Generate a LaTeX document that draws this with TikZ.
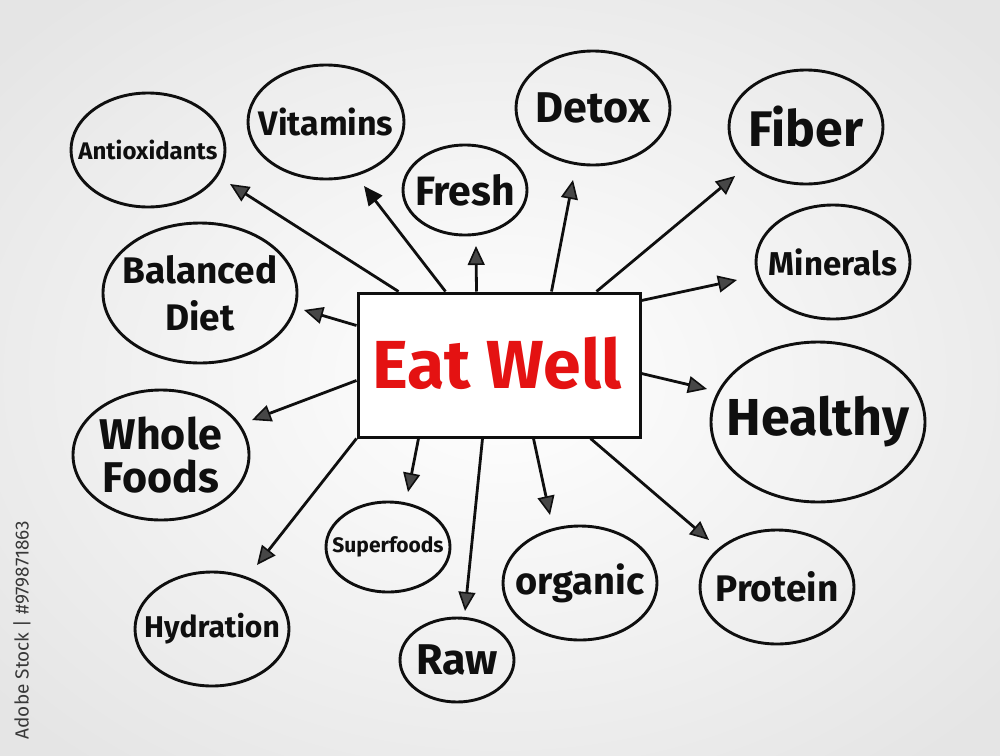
\documentclass[tikz,border=0pt]{standalone}
\usepackage{fontspec}
\setmainfont{Fira Sans}
\usetikzlibrary{shapes.geometric,arrows.meta}
\definecolor{eatred}{RGB}{228,18,18}
\definecolor{ink}{RGB}{15,15,15}
\begin{document}
\begin{tikzpicture}[x=1pt,y=-1pt,
  ell/.style={draw=ink, line width=2.9pt, ellipse, inner sep=0pt},
  lab/.style={text=ink, align=center, inner sep=0pt},
  hub/.style={draw=ink, line width=3pt, rectangle, fill=white, inner sep=0pt},
  arr/.style={draw=ink, line width=2.8pt, -{Triangle[length=19pt,width=17pt,fill=black!72,line width=1.6pt]}},
  arrsolid/.style={draw=ink, line width=2.8pt, -{Triangle[length=19pt,width=17pt,fill=ink]}}]
\useasboundingbox (0,0) rectangle (1000,755);
\shade[inner color=white, outer color=black!10] (-150,-110) rectangle (1150,865);
% nodes
\node[ell, minimum width=154, minimum height=114, label={[lab, font=\bfseries\fontsize{24}{28}\selectfont]center:Antioxidants}] (anti) at (148,150) {};
\node[ell, minimum width=156, minimum height=114, label={[lab, font=\bfseries\fontsize{34}{38}\selectfont]center:Vitamins}] (vit) at (326,122) {};
\node[ell, minimum width=124, minimum height=90, label={[lab, font=\bfseries\fontsize{41}{45}\selectfont]center:Fresh}] (fresh) at (465,190) {};
\node[ell, minimum width=154, minimum height=114, label={[lab, font=\bfseries\fontsize{43}{47}\selectfont]center:Detox}] (detox) at (593,108) {};
\node[ell, minimum width=154, minimum height=114, label={[lab, font=\bfseries\fontsize{50}{54}\selectfont]center:Fiber}] (fiber) at (806,127) {};
\node[ell, minimum width=154, minimum height=114, label={[lab, font=\bfseries\fontsize{33}{37}\selectfont]center:Minerals}] (min) at (833,262) {};
\node[ell, minimum width=194, minimum height=140, label={[lab, font=\bfseries\fontsize{37}{47}\selectfont]center:{Balanced\\Diet}}] (bal) at (200,293) {};
\node[ell, minimum width=214, minimum height=160, label={[lab, font=\bfseries\fontsize{52}{56}\selectfont]center:Healthy}] (health) at (818,422) {};
\node[ell, minimum width=176, minimum height=130, label={[lab, font=\bfseries\fontsize{43}{43}\selectfont]center:{Whole\\Foods}}] (whole) at (161,455) {};
\node[ell, minimum width=124, minimum height=90, label={[lab, font=\bfseries\fontsize{21}{25}\selectfont]center:Superfoods}] (super) at (388,547) {};
\node[ell, minimum width=154, minimum height=114, label={[lab, font=\bfseries\fontsize{38}{42}\selectfont]center:organic}] (org) at (580,583) {};
\node[ell, minimum width=154, minimum height=114, label={[lab, font=\bfseries\fontsize{37}{41}\selectfont]center:Protein}] (prot) at (777,587) {};
\node[ell, minimum width=154, minimum height=114, label={[lab, font=\bfseries\fontsize{30}{34}\selectfont]center:Hydration}] (hyd) at (212,629) {};
\node[ell, minimum width=114, minimum height=84, label={[lab, font=\bfseries\fontsize{43}{47}\selectfont]center:Raw}] (raw) at (457,660) {};
\node[hub, minimum width=282, minimum height=144] (eat) at (499,365) {};
\node[text=eatred, font=\bfseries\fontsize{68}{72}\selectfont] (eattxt) at (497,363) {Eat Well};
% tip coordinates
\coordinate (tAnti) at (230,184);
\coordinate (tVit) at (364,186);
\coordinate (tFresh) at (476,246);
\coordinate (tDetox) at (573,180);
\coordinate (tFiber) at (735,176);
\coordinate (tMin) at (737,280);
\coordinate (tBal) at (304,310);
\coordinate (tHealth) at (707,389);
\coordinate (tWhole) at (252,420);
\coordinate (tHyd) at (257,565);
\coordinate (tSuper) at (408,492);
\coordinate (tRaw) at (465,611);
\coordinate (tOrg) at (550,515);
\coordinate (tProt) at (709,540);
% connectors
\draw[arr] ([xshift=42]eat.north west) -- (tAnti);
\draw[arrsolid] ([xshift=89]eat.north west) -- (tVit);
\draw[arr] ([xshift=120]eat.north west) -- (tFresh);
\draw[arr] ([xshift=195]eat.north west) -- (tDetox);
\draw[arr] ([xshift=240]eat.north west) -- (tFiber);
\draw[arr] ([yshift=-9]eat.north east) -- (tMin);
\draw[arr] ([yshift=-34]eat.north west) -- (tBal);
\draw[arr] ([yshift=-82]eat.north east) -- (tHealth);
\draw[arr] ([yshift=-89]eat.north west) -- (tWhole);
\draw[arr] (eat.south west) -- (tHyd);
\draw[arr] ([xshift=62]eat.south west) -- (tSuper);
\draw[arr] ([xshift=126]eat.south west) -- (tRaw);
\draw[arr] ([xshift=177]eat.south west) -- (tOrg);
\draw[arr] ([xshift=234]eat.south west) -- (tProt);
% side text
\node[rotate=90, text=black!78, font=\fontsize{19}{22}\selectfont] (stock) at (22,630) {Adobe Stock | \#979871863};
\end{tikzpicture}
\end{document}
